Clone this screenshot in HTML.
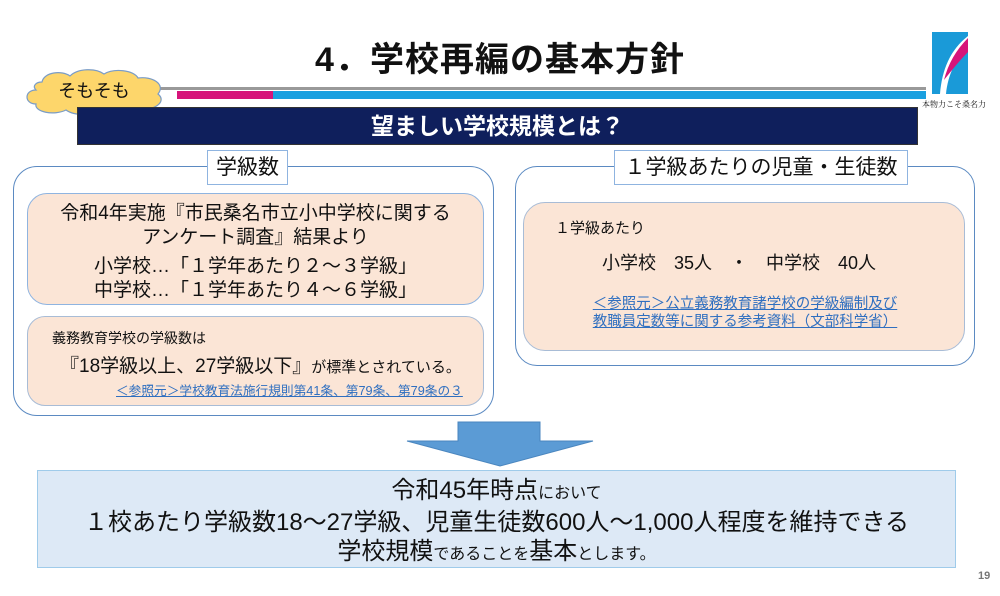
<!DOCTYPE html>
<html><head><meta charset="utf-8"><style>
*{margin:0;padding:0;box-sizing:border-box}
body{width:1000px;height:596px;background:#fff;position:relative;overflow:hidden;font-family:"Liberation Sans","Noto Sans CJK JP",sans-serif;color:#111}
.a{position:absolute}
.c{text-align:center;white-space:nowrap}
.lk{color:#2f6fc0;text-decoration:underline}
</style></head><body>
<div class="a c" style="left:0;width:1000px;top:38px;font-size:34px;font-weight:bold;line-height:44px;letter-spacing:1px">4．学校再編の基本方針</div>
<svg class="a" style="left:930px;top:30px" width="42" height="68" viewBox="0 0 42 68">
<rect x="2" y="2" width="36" height="62" fill="#1a9ad8"/>
<path d="M10 64 C12 40 20 20 38 6 L38 20 C26 28 18 44 16 64Z" fill="#fff"/>
<path d="M14 50 C18 34 26 20 38 8 L38 22 C30 30 22 40 14 50Z" fill="#d6147a"/>
</svg>
<div class="a" style="left:922px;top:99px;font-size:8px;font-family:'Liberation Serif','Noto Serif CJK SC',serif">本物力こそ桑名力</div>
<div class="a" style="left:90px;top:87px;width:836px;height:3px;background:#999"></div>
<div class="a" style="left:177px;top:91px;width:96px;height:8px;background:#d6147a"></div>
<div class="a" style="left:273px;top:91px;width:653px;height:8px;background:#1aa0e0"></div>
<svg class="a" style="left:22px;top:68px" width="150" height="48" viewBox="0 0 150 48">
<path d="M20 14 C22 4 40 2 48 8 C56 0 74 0 82 6 C92 0 112 2 116 10 C130 8 144 16 136 26 C146 34 130 44 118 40 C110 48 90 48 82 42 C72 48 52 48 44 42 C32 48 12 44 14 36 C2 36 2 22 14 22 C10 18 14 14 20 14Z" fill="#fdd66b" stroke="#7a9cc6" stroke-width="1.2"/>
<text x="72" y="29" text-anchor="middle" font-size="18" font-family="Liberation Sans, Noto Sans CJK JP, sans-serif" fill="#111">そもそも</text>
</svg>
<div class="a c" style="left:77px;top:107px;width:841px;height:38px;background:#0f1f5c;border:1px solid #333;color:#fff;font-size:23px;font-weight:bold;line-height:36px">望ましい学校規模とは？</div>
<div class="a" style="left:13px;top:166px;width:481px;height:250px;border:1.5px solid #5b8ac2;border-radius:24px"></div>
<div class="a c" style="left:207px;top:150px;width:81px;height:35px;background:#fff;border:1px solid #8fb4e0;font-size:21px;line-height:33px">学級数</div>
<div class="a c" style="left:27px;top:193px;width:457px;height:112px;background:#fbe5d6;border:1.5px solid #8fb4e0;border-radius:20px;font-size:19px;line-height:24px;padding-top:8px">令和4年実施『市民桑名市立小中学校に関する<br>アンケート調査』結果より<div style="height:5px"></div>小学校…「１学年あたり２～３学級」<br>中学校…「１学年あたり４～６学級」</div>
<div class="a" style="left:27px;top:316px;width:457px;height:90px;background:#fbe5d6;border:1.5px solid #a8bcd6;border-radius:18px"></div>
<div class="a" style="left:52px;top:328px;font-size:14px;line-height:20px">義務教育学校の学級数は</div>
<div class="a" style="left:60px;top:354px;font-size:19px;line-height:26px;white-space:nowrap">『18学級以上、27学級以下』<span style="font-size:15px">が標準とされている。</span></div>
<div class="a lk" style="left:116px;top:383px;font-size:12.7px;line-height:17px;white-space:nowrap">＜参照元＞学校教育法施行規則第41条、第79条、第79条の３</div>
<div class="a" style="left:515px;top:166px;width:460px;height:200px;border:1.5px solid #5b8ac2;border-radius:22px"></div>
<div class="a c" style="left:614px;top:150px;width:294px;height:35px;background:#fff;border:1px solid #8fb4e0;font-size:21px;line-height:33px">１学級あたりの児童・生徒数</div>
<div class="a" style="left:523px;top:202px;width:442px;height:149px;background:#fbe5d6;border:1.5px solid #a8bcd6;border-radius:22px"></div>
<div class="a" style="left:555px;top:219px;font-size:15px;line-height:20px">１学級あたり</div>
<div class="a" style="left:602px;top:250px;font-size:18px;line-height:26px;white-space:nowrap">小学校　35人　・　中学校　40人</div>
<div class="a c lk" style="left:585px;top:295px;width:320px;font-size:14.5px;line-height:18px">＜参照元＞公立義務教育諸学校の学級編制及び<br>教職員定数等に関する参考資料（文部科学省）</div>
<svg class="a" style="left:400px;top:420px" width="200" height="48"><path d="M58 2 H140 V21 H193 L100 46 L7 21 H58Z" fill="#5b9bd5" stroke="#4a86bf"/></svg>
<div class="a c" style="left:37px;top:470px;width:919px;height:98px;background:#dde9f6;border:1.5px solid #9fcbea;padding-top:5px;font-size:24px;line-height:29px">令和45年時点<span style="font-size:16px">において</span><br>１校あたり学級数18～27学級、児童生徒数600人～1,000人程度を維持できる<br>学校規模<span style="font-size:16px">であることを</span>基本<span style="font-size:16px">とします。</span></div>
<div class="a" style="left:978px;top:570px;font-size:11px;font-weight:bold;color:#777">19</div>
</body></html>
